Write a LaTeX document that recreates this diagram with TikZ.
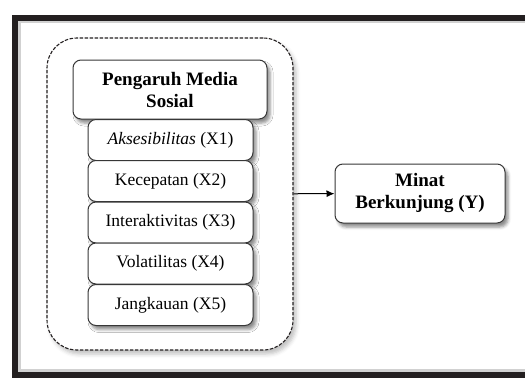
\documentclass[tikz,border=0pt]{standalone}
\usepackage{fontspec}
\setmainfont{Liberation Serif}
\usepackage{xcolor}
\definecolor{Col1}{RGB}{35,31,32}
\definecolor{Col2}{RGB}{55,55,55}
\usepackage{tikz}
\usetikzlibrary{shadows.blur}
\usetikzlibrary{arrows.meta}
\tikzstyle{Frame}=[draw=Col1,line width=6pt]
\tikzstyle{FrameShade}=[draw=black!18,line width=3pt]
\tikzstyle{Group}=[draw=Col1,dash pattern=on 3.5pt off 1.5pt,line width=1.1pt,
rounded corners=30pt,minimum width=246pt,minimum height=312pt,fill=white,
blur shadow={shadow xshift=3pt,shadow yshift=-4pt,shadow blur radius=4pt,shadow opacity=25}]
\tikzstyle{Box}=[draw=Col2,line width=1pt,rounded corners=8pt,fill=white,
align=center,inner sep=0pt,
blur shadow={shadow xshift=3pt,shadow yshift=-4pt,shadow blur radius=3pt,shadow opacity=45}]
\tikzstyle{Head}=[Box,minimum width=194pt,minimum height=59pt,
font=\fontsize{19}{22}\selectfont\bfseries]
\tikzstyle{Item}=[Box,minimum width=165pt,minimum height=41pt,
font=\fontsize{17.5}{20}\selectfont]
\tikzstyle{Edge}=[draw=black,line width=1pt,-{Latex[length=8pt,width=7pt]}]

\begin{document}
\begin{tikzpicture}[x=1pt,y=-1pt]
        \useasboundingbox(0,0)rectangle(525,378);
        % frame, open on the right
        \draw[FrameShade](530,21.5)--(19.5,21.5)--(19.5,370.5)--(530,370.5);
        \draw[Frame](540,17.5)--(15,17.5)--(15,375)--(540,375);
        \node[Group](g)at(170,194){};
        \node[Head](h)at(170,89.5){Pengaruh Media\\Sosial};
        \node[Item](x1)at(170.5,140){\textit{Aksesibilitas} (X1)};
        \node[Item](x2)at(170.5,181){Kecepatan (X2)};
        \node[Item](x3)at(170.5,222.5){Interaktivitas (X3)};
        \node[Item](x4)at(170.5,263.5){Volatilitas (X4)};
        \node[Item](x5)at(170.5,305){Jangkauan (X5)};
        \node[Head,minimum width=170pt](y)at(420,193.5){Minat\\Berkunjung (Y)};
        \draw[Edge](g)--(y);
    \end{tikzpicture}
\end{document}
